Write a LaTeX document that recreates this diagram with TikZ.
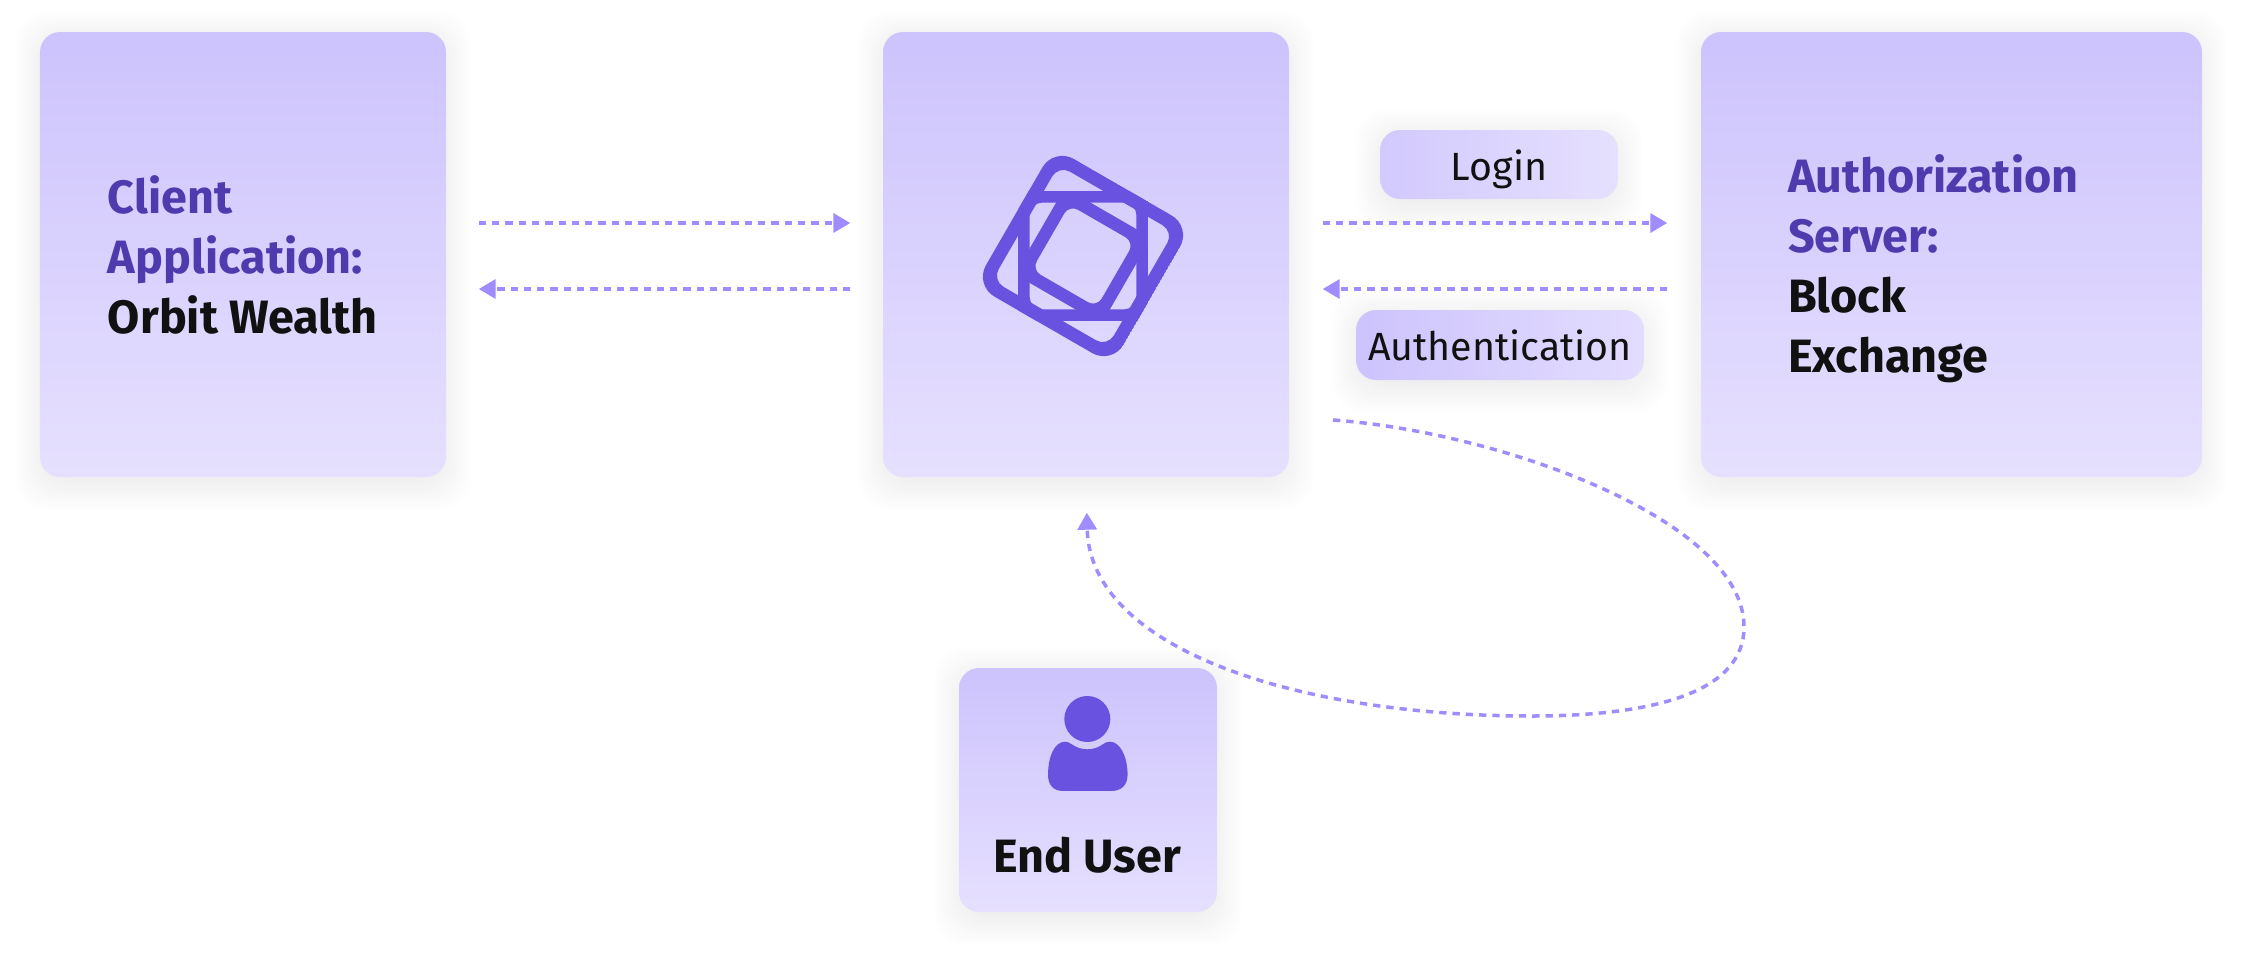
\documentclass[tikz,border=0pt]{standalone}
\usepackage{fontspec}
\setmainfont{Fira Sans}
\usetikzlibrary{arrows.meta,backgrounds,calc}
\definecolor{boxtop}{HTML}{CDC3FD}
\definecolor{boxbot}{HTML}{E6E0FE}
\definecolor{headcol}{HTML}{4F3AAE}
\definecolor{logocol}{HTML}{6952E0}
\definecolor{flowcol}{HTML}{A08CFE}
\definecolor{inkcol}{HTML}{111111}
\tikzset{
  panel/.style={rounded corners=.2cm, top color=boxtop, bottom color=boxbot, inner sep=0pt},
  pill/.style={rounded corners=.2cm, inner sep=0pt, text=inkcol, text height=.4cm, text depth=.09cm,
    font=\fontsize{11.2pt}{13pt}\selectfont},
  boxtext/.style={anchor=west, align=left, inner sep=0pt, text=inkcol, font=\fontsize{13.3pt}{17.07pt}\selectfont\bfseries},
  flow/.style={draw=flowcol, line width=.035cm, dash pattern=on .073cm off .06cm,
    -{Triangle[length=.17cm,width=.19cm]}},
}
\begin{document}
\begin{tikzpicture}
  \useasboundingbox (0,0) rectangle (22.43,9.6);
  % boxes
  \node[panel, minimum width=4.06cm, minimum height=4.45cm] (client) at (2.43,7.055) {};
  \node[panel, minimum width=4.06cm, minimum height=4.45cm] (broker) at (10.86,7.055) {};
  \node[panel, minimum width=5.01cm, minimum height=4.45cm] (authz) at (19.515,7.055) {};
  \node[panel, minimum width=2.58cm, minimum height=2.44cm] (enduser) at (10.88,1.70) {};
  \node[pill, left color=boxtop!90!white, right color=boxbot, minimum width=2.38cm, minimum height=.69cm] (login) at (14.99,7.955) {Login};
  \node[pill, left color=boxtop, middle color=boxbot!75!boxtop, right color=boxbot!88!boxtop, minimum width=2.88cm, minimum height=.70cm] (authn) at (15.00,6.15) {Authentication};
  % soft shadows
  \begin{scope}[on background layer]
    \foreach \n in {client,broker,authz,enduser,login,authn}
      \foreach \g in {.02,.04,...,.32}
        \fill[black, opacity=.0055, rounded corners=.3cm]
          ($(\n.south west)+(-\g+.08,-\g)$) rectangle ($(\n.north east)+(\g-.08,\g-.12)$);
  \end{scope}
  % box texts
  \node[boxtext] (clienttext) at ([xshift=.68cm]client.west)
    {\textcolor{headcol}{Client}\\\textcolor{headcol}{Application:}\\Orbit Wealth};
  \node[boxtext] (authztext) at ([xshift=.87cm,yshift=-.143cm]authz.west)
    {\textcolor{headcol}{Authorization}\\\textcolor{headcol}{Server:}\\Block\\Exchange};
  \node[boxtext, anchor=base] (endusertext) at (10.87,.88) {End User};
  % connectors
  \draw[flow, shorten >=.32cm, shorten <=.32cm] ([yshift=.315cm]client.east) -- ([yshift=.315cm]broker.west);
  \draw[flow, shorten >=.32cm, shorten <=.32cm] ([yshift=-.345cm]broker.west) -- ([yshift=-.345cm]client.east);
  \draw[flow, shorten >=.33cm, shorten <=.33cm] ([yshift=.315cm]broker.east) -- ([yshift=.315cm]authz.west);
  \draw[flow, shorten >=.33cm, shorten <=.33cm] ([yshift=-.345cm]authz.west) -- ([yshift=-.345cm]broker.east);
  \coordinate (loopstart) at (13.33,5.40);
  \draw[flow, shorten >=.35cm] (loopstart)
    .. controls (15.00,5.28) and (17.44,4.40) .. (17.44,3.33)
    .. controls (17.44,2.70) and (16.60,2.44) .. (15.31,2.44)
    .. controls (13.00,2.44) and (10.90,3.10) .. (broker.south);
  % logo
  \begin{scope}[shift={(10.83,7.04)}, x=.01cm, y=.01cm]
    \clip[rotate=-30, rounded corners=.23cm] (-79.5,-79.5) rectangle (79.5,79.5);
    \fill[logocol, even odd rule, rotate=-30] (-79.5,-79.5) rectangle (79.5,79.5)
      [rounded corners=.13cm] (-66.5,-66.5) rectangle (66.5,66.5);
    \fill[logocol, even odd rule] (-65,-65) rectangle (65,65)
      [rounded corners=.13cm] (-53.5,-53.5) rectangle (53.5,53.5);
    \clip (-60,-60) rectangle (60,60);
    \fill[logocol, even odd rule, rotate=-30] (-50,-50) rectangle (50,50)
      [rounded corners=.10cm] (-37.5,-37.5) rectangle (37.5,37.5);
  \end{scope}
  % person
  \begin{scope}[shift={(10.873,2.41)}, x=.01cm, y=.01cm]
    \fill[logocol] (0,0) circle (.23cm);
    \fill[logocol] (-16,-25) .. controls (-11,-28.5) and (-6,-30.3) .. (0,-30.3)
      .. controls (6,-30.3) and (11,-28.5) .. (16,-25)
      .. controls (18,-23.5) and (20,-22.7) .. (22.7,-22.7)
      .. controls (33,-22.7) and (40.3,-38) .. (40.3,-56)
      .. controls (40.3,-66) and (34,-72) .. (24.3,-72)
      -- (-24.3,-72)
      .. controls (-34,-72) and (-39.3,-66) .. (-39.3,-56)
      .. controls (-39.3,-38) and (-33,-22.7) .. (-22.3,-22.7)
      .. controls (-20,-22.7) and (-18,-23.5) .. (-16,-25) -- cycle;
  \end{scope}
\end{tikzpicture}
\end{document}
